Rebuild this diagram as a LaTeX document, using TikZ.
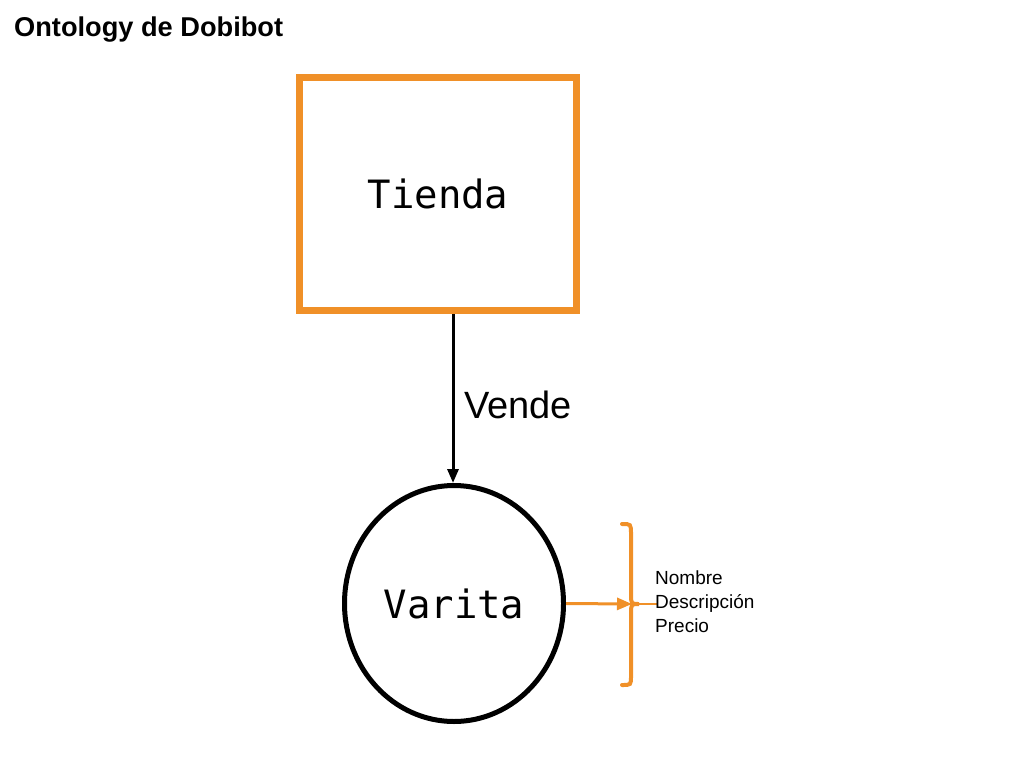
\documentclass[tikz,border=0pt]{standalone}
\usepackage{fontspec}
\setmainfont{Liberation Sans}
\newfontfamily\monof{DejaVu Sans Mono}
\usetikzlibrary{arrows.meta}
\definecolor{dorange}{RGB}{240,144,40}
\tikzset{
  box/.style={draw=dorange, line width=7pt, minimum width=277pt, minimum height=233pt, inner sep=0pt, font=\monof\fontsize{39}{41}\selectfont},
  circ/.style={draw=black, line width=5pt, ellipse, minimum width=219pt, minimum height=236pt, inner sep=0pt, font=\monof\fontsize{39}{41}\selectfont},
  conn/.style={line width=3pt, -{Triangle[length=14pt,width=11pt]}},
  lbl/.style={font=\fontsize{38}{40}\selectfont, anchor=west, inner sep=0pt},
  attr/.style={font=\fontsize{19}{24}\selectfont, anchor=west, inner sep=0pt, align=left},
}
\usetikzlibrary{shapes.geometric}
\begin{document}
\begin{tikzpicture}[x=1pt,y=-1pt]
\useasboundingbox (0,0) rectangle (1024,768);
\node[font=\bfseries\fontsize{27.2}{30}\selectfont, anchor=base west, inner sep=0pt] (title) at (14,37) {Ontology de Dobibot};
\node[box] (tienda) at (438,194) {Tienda};
\node[circ] (varita) at (454,603.5) {Varita};
\node[lbl] (vende) at (464,405) {Vende};
\draw[conn] (tienda.south -| 453,0) -- (varita.north -| 453,0);
\coordinate (bt) at (632,604);
\draw[conn, draw=dorange, -{Triangle[length=15pt,width=12pt,fill=dorange]}] (varita.east) -- (bt);
\draw[dorange, line width=4pt, line cap=round] (622,524) .. controls (631,524) .. (631,534) -- (631,594) .. controls (631,604) .. (639,604) .. controls (631,604) .. (631,614) -- (631,676) .. controls (631,685) .. (622,685);
\draw[dorange, line width=2pt] (bt) -- (658,604);
\node[attr] (attrs) at (655,602) {Nombre\\Descripción\\Precio};
\end{tikzpicture}
\end{document}
